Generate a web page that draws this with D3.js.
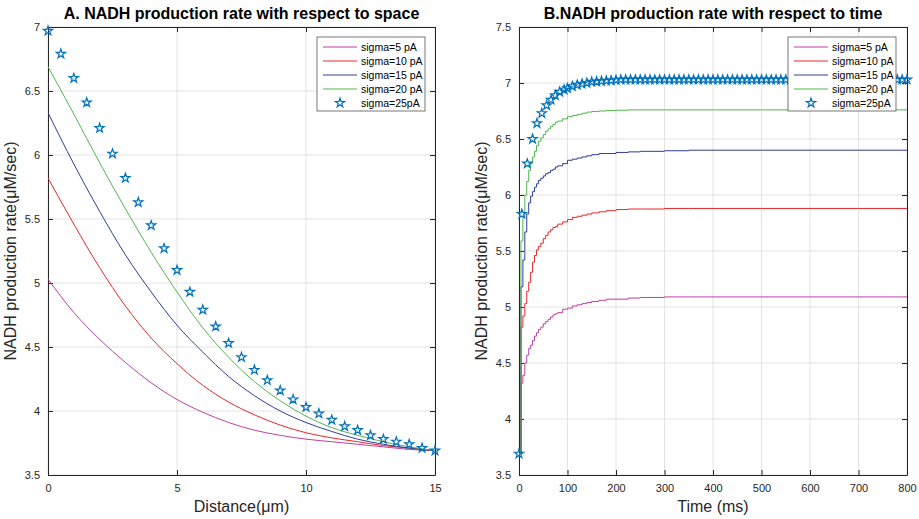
<!DOCTYPE html>
<html><head><meta charset="utf-8">
<script src="https://cdn.jsdelivr.net/npm/d3@7"></script>
<style>body{margin:0;background:#fff;} svg{display:block;font-family:"Liberation Sans",Arial,sans-serif;}</style>
</head><body>
<svg id="c" width="919" height="519"></svg>
<script>
// ---------- DATA ----------
const seriesNames = ["sigma=5 pA","sigma=10 pA","sigma=15 pA","sigma=20 pA","sigma=25pA"];
const seriesColors = ["#C13FA3","#E8282B","#2E3E96","#52B54F","#0072BD"];

// Panel A: distance (µm)
const distLine = [0,1,2,3,4,5,6,7,8,9,10,11,12,13,14,15];
const spaceS5  = [5.03,4.77,4.56,4.38,4.22,4.09,3.99,3.91,3.85,3.81,3.78,3.76,3.74,3.72,3.70,3.69];
const spaceS10 = [5.82,5.46,5.12,4.82,4.57,4.37,4.20,4.07,3.97,3.89,3.83,3.79,3.76,3.73,3.71,3.69];
const spaceS15 = [6.33,5.93,5.56,5.22,4.93,4.67,4.46,4.27,4.12,4.00,3.91,3.84,3.78,3.74,3.71,3.69];
const spaceS20 = [6.69,6.32,5.94,5.58,5.24,4.93,4.65,4.42,4.23,4.08,3.96,3.87,3.81,3.76,3.72,3.69];
const distStar = [0,0.5,1,1.5,2,2.5,3,3.5,4,4.5,5,5.5,6,6.5,7,7.5,8,8.5,9,9.5,10,10.5,11,11.5,12,12.5,13,13.5,14,14.5,15];
const spaceS25 = [6.97,6.79,6.60,6.41,6.21,6.01,5.82,5.63,5.45,5.27,5.10,4.93,4.79,4.66,4.53,4.42,4.32,4.24,4.16,4.09,4.03,3.98,3.93,3.88,3.85,3.81,3.78,3.76,3.74,3.71,3.69];

// Panel B: time (ms)
const timeLine = [0,4,8,12,16,20,24,28,32,36,40,45,50,55,60,65,70,75,80,90,100,110,120,130,140,150,165,180,200,225,250,300,350,400,500,600,700,800];
const timeS5  = [3.69,4.32,4.39,4.50,4.57,4.63,4.66,4.70,4.74,4.77,4.80,4.82,4.85,4.87,4.89,4.91,4.93,4.94,4.95,4.98,4.99,5.01,5.02,5.03,5.04,5.05,5.06,5.07,5.07,5.08,5.085,5.09,5.09,5.09,5.09,5.09,5.09,5.09];
const timeS10 = [3.69,4.82,4.92,5.03,5.14,5.22,5.31,5.40,5.46,5.51,5.54,5.57,5.61,5.64,5.67,5.69,5.71,5.72,5.74,5.76,5.78,5.80,5.81,5.82,5.83,5.84,5.85,5.86,5.87,5.875,5.875,5.88,5.88,5.88,5.88,5.88,5.88,5.88];
const timeS15 = [3.69,5.18,5.42,5.67,5.83,5.93,5.99,6.03,6.07,6.10,6.13,6.15,6.17,6.19,6.20,6.22,6.23,6.25,6.26,6.28,6.31,6.32,6.33,6.34,6.35,6.36,6.37,6.37,6.38,6.385,6.39,6.395,6.40,6.40,6.40,6.40,6.40,6.40];
const timeS20 = [3.69,5.59,5.80,6.00,6.12,6.22,6.28,6.34,6.39,6.44,6.48,6.51,6.54,6.57,6.59,6.61,6.63,6.65,6.66,6.68,6.70,6.71,6.72,6.73,6.74,6.745,6.75,6.755,6.757,6.76,6.76,6.76,6.76,6.76,6.76,6.76,6.76,6.76];
const timeStar = [0,6,17,28,37,47,57,66,75,84,93,100,110,120,130,140,150,160,170,180,190,200,210,220,230,240,250,260,270,280,290,300,310,320,330,340,350,360,370,380,390,400,410,420,430,440,450,460,470,480,490,500,510,520,530,540,550,560,570,580,590,600,610,620,630,640,650,660,670,680,690,700,710,720,730,740,750,760,770,780,790,800];
const timeS25 = [3.69,5.83,6.28,6.50,6.64,6.73,6.80,6.85,6.89,6.92,6.94,6.953,6.97,6.983,6.993,7.00,7.01,7.013,7.017,7.02,7.023,7.027,7.03,7.03,7.03,7.03,7.03,7.03,7.03,7.03,7.03,7.03,7.03,7.03,7.03,7.03,7.03,7.03,7.03,7.03,7.03,7.03,7.03,7.03,7.03,7.03,7.03,7.03,7.03,7.03,7.03,7.03,7.03,7.03,7.03,7.03,7.03,7.03,7.03,7.03,7.03,7.03,7.03,7.03,7.03,7.03,7.03,7.03,7.03,7.03,7.03,7.03,7.03,7.03,7.03,7.03,7.03,7.03,7.03,7.03,7.03,7.03];

const xTicksA = [0,5,10,15];
const yTicksA = [3.5,4,4.5,5,5.5,6,6.5,7];
const xTicksB = [0,100,200,300,400,500,600,700,800];
const yTicksB = [3.5,4,4.5,5,5.5,6,6.5,7,7.5];

// ---------- DRAW ----------
const svg = d3.select("#c");
const axisCol = "#262626";

function panel(opt){
  const g = svg.append("g");
  const x = d3.scaleLinear().domain(opt.xDomain).range([opt.left, opt.right]);
  const y = d3.scaleLinear().domain(opt.yDomain).range([opt.bottom, opt.top]);
  // grid
  g.append("g").selectAll("line.gx").data(opt.xTicks).join("line")
    .attr("x1",d=>x(d)).attr("x2",d=>x(d)).attr("y1",opt.top).attr("y2",opt.bottom)
    .attr("stroke","#e3e3e3").attr("stroke-width",1);
  g.append("g").selectAll("line.gy").data(opt.yTicks).join("line")
    .attr("y1",d=>y(d)).attr("y2",d=>y(d)).attr("x1",opt.left).attr("x2",opt.right)
    .attr("stroke","#e3e3e3").attr("stroke-width",1);
  // axes (MATLAB-style box with inward ticks)
  const xb = d3.axisBottom(x).tickValues(opt.xTicks).tickSizeInner(-5).tickSizeOuter(0).tickPadding(9).tickFormat(d3.format("~g"));
  const xt = d3.axisTop(x).tickValues(opt.xTicks).tickSizeInner(-5).tickSizeOuter(0).tickFormat("");
  const yl = d3.axisLeft(y).tickValues(opt.yTicks).tickSizeInner(-5).tickSizeOuter(0).tickPadding(8).tickFormat(d3.format("~g"));
  const yr = d3.axisRight(y).tickValues(opt.yTicks).tickSizeInner(-5).tickSizeOuter(0).tickFormat("");
  const styleAxis = s => { s.select(".domain").attr("stroke",axisCol);
    s.selectAll(".tick line").attr("stroke",axisCol);
    s.selectAll(".tick text").attr("fill",axisCol).attr("font-size","11px").attr("font-family","Liberation Sans, Arial, sans-serif"); };
  g.append("g").attr("transform",`translate(0,${opt.bottom})`).call(xb).call(styleAxis);
  g.append("g").attr("transform",`translate(0,${opt.top})`).call(xt).call(styleAxis);
  g.append("g").attr("transform",`translate(${opt.left},0)`).call(yl).call(styleAxis);
  g.append("g").attr("transform",`translate(${opt.right},0)`).call(yr).call(styleAxis);

  const clipId = "clip"+opt.id;
  svg.append("clipPath").attr("id",clipId).append("rect")
    .attr("x",opt.left).attr("y",opt.top).attr("width",opt.right-opt.left).attr("height",opt.bottom-opt.top);
  const lines = g.append("g").attr("clip-path",`url(#${clipId})`);
  opt.lines.forEach((ser,i)=>{
    const pts = ser.xs.map((xv,j)=>[xv, ser.ys[j]]);
    lines.append("path").datum(pts)
      .attr("fill","none").attr("stroke",seriesColors[i]).attr("stroke-width",1)
      .attr("d", d3.line().x(d=>x(d[0])).y(d=>y(d[1])).curve(opt.curve));
  });
  const star = d3.symbol().type(d3.symbolStar).size(26);
  g.append("g").selectAll("path").data(opt.stars.xs.map((xv,j)=>[xv,opt.stars.ys[j]])).join("path")
    .attr("d",star).attr("transform",d=>`translate(${x(d[0])},${y(d[1])})`)
    .attr("fill","none").attr("stroke",seriesColors[4]).attr("stroke-width",1.2);

  // title & labels
  svg.append("text").attr("x",(opt.left+opt.right)/2).attr("y",19).attr("text-anchor","middle")
    .attr("font-weight","bold").attr("font-size","16px").attr("fill","#000").text(opt.title);
  svg.append("text").attr("x",(opt.left+opt.right)/2).attr("y",512).attr("text-anchor","middle")
    .attr("font-size","16px").attr("fill",axisCol).text(opt.xLabel);
  svg.append("text").attr("transform",`translate(${opt.left-32},${(opt.top+opt.bottom)/2}) rotate(-90)`)
    .attr("text-anchor","middle").attr("font-size","16px").attr("fill",axisCol).text(opt.yLabel);

  // legend
  const lg = svg.append("g").attr("transform",`translate(${opt.legX},37)`);
  lg.append("rect").attr("width",108).attr("height",74).attr("fill","#fff").attr("stroke","#555").attr("stroke-width",0.8);
  seriesNames.forEach((nm,i)=>{
    const yy = 10 + i*14;
    if(i<4){
      lg.append("line").attr("x1",6).attr("x2",40).attr("y1",yy).attr("y2",yy).attr("stroke",seriesColors[i]).attr("stroke-width",1);
    } else {
      lg.append("path").attr("d",star).attr("transform",`translate(23,${yy})`).attr("fill","none").attr("stroke",seriesColors[4]).attr("stroke-width",1.2);
    }
    lg.append("text").attr("x",44).attr("y",yy+3.5).attr("font-size","10.5px").attr("fill","#000").text(nm);
  });
}

panel({id:"A", left:48, right:435, top:27, bottom:475, xDomain:[0,15], yDomain:[3.5,7],
  xTicks:xTicksA, yTicks:yTicksA, curve:d3.curveMonotoneX,
  lines:[{xs:distLine,ys:spaceS5},{xs:distLine,ys:spaceS10},{xs:distLine,ys:spaceS15},{xs:distLine,ys:spaceS20}],
  stars:{xs:distStar,ys:spaceS25},
  title:"A. NADH production rate with respect to space", xLabel:"Distance(μm)", yLabel:"NADH production rate(μM/sec)", legX:317});

panel({id:"B", left:519, right:907, top:27, bottom:475, xDomain:[0,800], yDomain:[3.5,7.5],
  xTicks:xTicksB, yTicks:yTicksB, curve:d3.curveStepAfter,
  lines:[{xs:timeLine,ys:timeS5},{xs:timeLine,ys:timeS10},{xs:timeLine,ys:timeS15},{xs:timeLine,ys:timeS20}],
  stars:{xs:timeStar,ys:timeS25},
  title:"B.NADH production rate with respect to time", xLabel:"Time (ms)", yLabel:"NADH production rate(μM/sec)", legX:788});
</script>
</body></html>
